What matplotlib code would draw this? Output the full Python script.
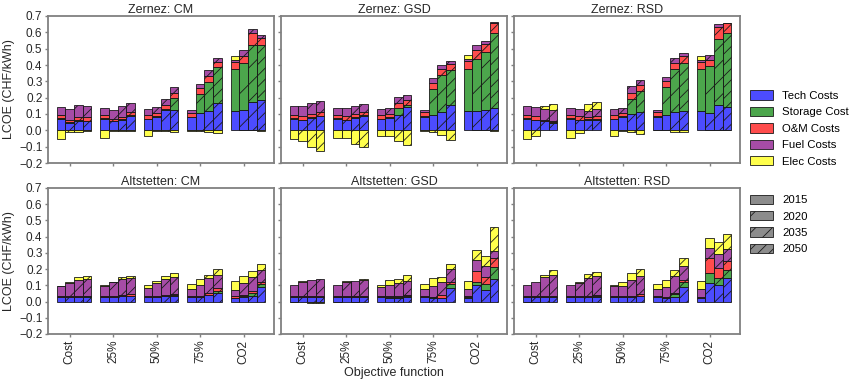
import numpy as np
import matplotlib
matplotlib.use('Agg')
import matplotlib.pyplot as plt
from matplotlib.patches import Patch
from matplotlib.colors import to_rgba

plt.rcParams['font.family'] = ['Liberation Sans', 'DejaVu Sans']
plt.rcParams['hatch.linewidth'] = 0.6

objectives = ['Cost', '25%', '50%', '75%', 'CO2']
years = ['2015', '2020', '2035', '2050']
components = ['Tech Costs', 'Storage Cost', 'O&M Costs', 'Fuel Costs', 'Elec Costs']
colors = ['blue', 'green', 'red', 'purple', 'yellow']
hatches = ['', '/', '//', '///']

# values in CHF/kWh, 4 years per objective (Cost, 25%, 50%, 75%, CO2)
zcm_tech = [0.069, 0.045, 0.058, 0.055, 0.069, 0.055, 0.065, 0.090, 0.069, 0.082, 0.122, 0.122,
            0.082, 0.106, 0.116, 0.167, 0.116, 0.127, 0.173, 0.184]
zcm_stor = [0.004, 0.005, 0.005, 0.005, 0.004, 0.003, 0.003, 0.003, 0.003, 0.003, 0.008, 0.076,
            0.002, 0.118, 0.182, 0.219, 0.260, 0.285, 0.347, 0.340]
zcm_om = [0.022, 0.015, 0.020, 0.020, 0.022, 0.012, 0.016, 0.022, 0.022, 0.020, 0.027, 0.031,
          0.022, 0.035, 0.032, 0.030, 0.045, 0.045, 0.076, 0.041]
zcm_fuel = [0.050, 0.068, 0.074, 0.067, 0.042, 0.052, 0.067, 0.052, 0.037, 0.038, 0.037, 0.036,
            0.016, 0.027, 0.037, 0.027, 0.010, 0.033, 0.026, 0.021]
zcm_elec = [-0.053, -0.012, -0.010, -0.005, -0.047, -0.005, -0.003, -0.003, -0.033, -0.005, -0.005, -0.010,
            -0.003, -0.005, -0.010, -0.015, 0.027, 0.0, 0.0, -0.003]

zgsd_tech = [0.069, 0.061, 0.076, 0.086, 0.069, 0.062, 0.078, 0.088, 0.069, 0.076, 0.096, 0.143,
             0.082, 0.096, 0.110, 0.157, 0.116, 0.116, 0.127, 0.137]
zgsd_stor = [0.004, 0.004, 0.003, 0.003, 0.004, 0.004, 0.003, 0.003, 0.003, 0.003, 0.041, 0.014,
             0.004, 0.157, 0.230, 0.214, 0.260, 0.321, 0.351, 0.459]
zgsd_om = [0.020, 0.020, 0.020, 0.022, 0.022, 0.022, 0.022, 0.022, 0.022, 0.018, 0.030, 0.031,
           0.024, 0.037, 0.038, 0.037, 0.050, 0.057, 0.053, 0.060]
zgsd_fuel = [0.054, 0.062, 0.068, 0.069, 0.042, 0.049, 0.048, 0.046, 0.037, 0.040, 0.037, 0.026,
             0.012, 0.030, 0.024, 0.019, 0.010, 0.026, 0.018, 0.005]
zgsd_elec = [-0.053, -0.067, -0.102, -0.129, -0.047, -0.047, -0.082, -0.102, -0.033, -0.033, -0.067, -0.088,
             -0.005, -0.010, -0.027, -0.057, 0.025, 0.0, 0.0, -0.003]

zrsd_tech = [0.069, 0.061, 0.055, 0.045, 0.069, 0.061, 0.065, 0.065, 0.069, 0.082, 0.100, 0.110,
             0.082, 0.092, 0.112, 0.120, 0.116, 0.106, 0.157, 0.141]
zrsd_stor = [0.004, 0.004, 0.003, 0.003, 0.004, 0.004, 0.003, 0.003, 0.003, 0.003, 0.092, 0.129,
             0.004, 0.173, 0.264, 0.292, 0.260, 0.286, 0.402, 0.455]
zrsd_om = [0.022, 0.020, 0.008, 0.008, 0.022, 0.020, 0.014, 0.020, 0.022, 0.020, 0.037, 0.039,
           0.024, 0.035, 0.036, 0.045, 0.045, 0.041, 0.074, 0.059]
zrsd_fuel = [0.052, 0.058, 0.065, 0.071, 0.042, 0.046, 0.038, 0.045, 0.037, 0.032, 0.040, 0.032,
             0.012, 0.027, 0.031, 0.016, 0.012, 0.026, 0.020, 0.002]
zrsd_elec = [-0.053, -0.033, 0.020, 0.036, -0.047, -0.016, 0.041, 0.040, -0.033, -0.005, -0.010, -0.020,
             0.0, 0.0, -0.008, -0.010, 0.024, 0.0, 0.0, 0.0]

acm_tech = [0.027, 0.027, 0.027, 0.030, 0.027, 0.027, 0.035, 0.035, 0.027, 0.027, 0.035, 0.037,
            0.027, 0.027, 0.041, 0.055, 0.020, 0.030, 0.035, 0.088]
acm_stor = [0.002, 0.002, 0.002, 0.002, 0.002, 0.002, 0.002, 0.002, 0.002, 0.002, 0.002, 0.002,
            0.002, 0.002, 0.002, 0.013, 0.002, 0.005, 0.020, 0.020]
acm_om = [0.005, 0.005, 0.006, 0.005, 0.005, 0.005, 0.006, 0.008, 0.005, 0.006, 0.006, 0.006,
          0.004, 0.005, 0.008, 0.014, 0.010, 0.007, 0.012, 0.013]
acm_fuel = [0.060, 0.083, 0.098, 0.100, 0.064, 0.084, 0.095, 0.099, 0.052, 0.080, 0.094, 0.108,
            0.043, 0.070, 0.092, 0.083, 0.040, 0.070, 0.083, 0.076]
acm_elec = [0.003, 0.006, 0.021, 0.021, 0.002, 0.005, 0.014, 0.014, 0.017, 0.014, 0.021, 0.021,
            0.033, 0.035, 0.021, 0.035, 0.057, 0.046, 0.041, 0.035]

agsd_tech = [0.027, 0.027, 0.027, 0.027, 0.027, 0.027, 0.027, 0.027, 0.027, 0.025, 0.025, 0.031,
             0.027, 0.025, 0.020, 0.082, 0.025, 0.103, 0.072, 0.140]
agsd_stor = [0.002, 0.002, 0.002, 0.002, 0.002, 0.002, 0.002, 0.002, 0.002, 0.002, 0.002, 0.002,
             0.002, 0.002, 0.002, 0.025, 0.002, 0.016, 0.035, 0.070]
agsd_om = [0.005, 0.005, 0.005, 0.005, 0.005, 0.005, 0.005, 0.005, 0.005, 0.005, 0.005, 0.006,
           0.004, 0.004, 0.020, 0.014, 0.006, 0.070, 0.043, 0.057]
agsd_fuel = [0.065, 0.086, 0.099, 0.106, 0.065, 0.086, 0.095, 0.098, 0.055, 0.069, 0.081, 0.088,
             0.045, 0.066, 0.081, 0.080, 0.046, 0.068, 0.070, 0.045]
agsd_elec = [0.0, 0.007, -0.010, -0.010, 0.0, 0.007, 0.0, 0.006, 0.014, 0.032, 0.025, 0.037,
             0.031, 0.047, 0.031, 0.031, 0.048, 0.061, 0.061, 0.150]

arsd_tech = [0.027, 0.027, 0.027, 0.027, 0.027, 0.027, 0.027, 0.031, 0.027, 0.027, 0.027, 0.035,
             0.027, 0.020, 0.027, 0.092, 0.023, 0.113, 0.099, 0.144]
arsd_stor = [0.002, 0.002, 0.002, 0.002, 0.002, 0.002, 0.002, 0.002, 0.002, 0.002, 0.002, 0.002,
             0.002, 0.002, 0.020, 0.027, 0.002, 0.062, 0.045, 0.051]
arsd_om = [0.005, 0.005, 0.005, 0.005, 0.005, 0.005, 0.005, 0.006, 0.005, 0.005, 0.005, 0.008,
           0.004, 0.004, 0.008, 0.014, 0.006, 0.092, 0.062, 0.058]
arsd_fuel = [0.065, 0.085, 0.116, 0.130, 0.065, 0.081, 0.109, 0.119, 0.059, 0.063, 0.099, 0.114,
             0.043, 0.062, 0.103, 0.086, 0.046, 0.061, 0.088, 0.070]
arsd_elec = [0.0, 0.0, 0.014, 0.031, 0.0, 0.006, 0.025, 0.027, 0.010, 0.026, 0.042, 0.042,
             0.033, 0.045, 0.037, 0.048, 0.050, 0.066, 0.076, 0.094]

panels = [
    ('Zernez: CM', [zcm_tech, zcm_stor, zcm_om, zcm_fuel, zcm_elec]),
    ('Zernez: GSD', [zgsd_tech, zgsd_stor, zgsd_om, zgsd_fuel, zgsd_elec]),
    ('Zernez: RSD', [zrsd_tech, zrsd_stor, zrsd_om, zrsd_fuel, zrsd_elec]),
    ('Altstetten: CM', [acm_tech, acm_stor, acm_om, acm_fuel, acm_elec]),
    ('Altstetten: GSD', [agsd_tech, agsd_stor, agsd_om, agsd_fuel, agsd_elec]),
    ('Altstetten: RSD', [arsd_tech, arsd_stor, arsd_om, arsd_fuel, arsd_elec]),
]

fig = plt.figure(figsize=(8.5, 3.84), dpi=100)
left, w, gap = 48 / 850, 226 / 850, 7 / 850
rows = [(1 - 163 / 384, 147 / 384), (1 - 334 / 384, 146 / 384)]

width = 0.2
x = np.arange(len(objectives))
edge = '#1a1a1a'
frame = '#808080'
txt = '#262626'

for k, (title, comps) in enumerate(panels):
    r, c = divmod(k, 3)
    ax = fig.add_axes([left + c * (w + gap), rows[r][0], w, rows[r][1]])
    vals = np.array(comps).reshape(5, len(objectives), len(years))
    for j, yr in enumerate(years):
        pos = x + (j - 1) * width
        bottom = np.zeros(len(objectives))
        for i in range(4):
            ax.bar(pos, vals[i, :, j], width, bottom=bottom,
                   color=to_rgba(colors[i], 0.7), edgecolor=edge, linewidth=0.6,
                   hatch=hatches[j])
            bottom = bottom + vals[i, :, j]
        elec = vals[4, :, j]
        eb = np.where(elec > 0, bottom, 0)
        ax.bar(pos, elec, width, bottom=eb, color=to_rgba(colors[4], 0.7),
               edgecolor=edge, linewidth=0.6, hatch=hatches[j])
    ax.set_xlim(-0.5, 4.7)
    ax.set_ylim(-0.2, 0.7)
    ax.set_yticks(np.arange(-0.2, 0.71, 0.1))
    ax.set_xticks(x)
    for s in ax.spines.values():
        s.set_color(frame)
        s.set_linewidth(1.3)
    ax.tick_params(direction='out', length=2.5, width=1, color=frame,
                   labelsize=8.5, labelcolor=txt, pad=1.5)
    ax.set_title(title, fontsize=9, pad=2, color=txt)
    if c == 0:
        ax.set_yticklabels([('%.1f' % v).replace('-', '\u2212') for v in np.arange(-0.2, 0.71, 0.1)])
        ax.set_ylabel('LCOE (CHF/kWh)', fontsize=9, color=txt, labelpad=3)
    else:
        ax.set_yticklabels([])
    if r == 1:
        ax.set_xticklabels(objectives, rotation=90)
        if c == 1:
            ax.set_xlabel('Objective function', fontsize=9, color=txt, labelpad=2)
    else:
        ax.set_xticklabels([])

comp_handles = [Patch(facecolor=to_rgba(col, 0.7), edgecolor=edge, linewidth=0.6, label=lab)
                for col, lab in zip(colors, components)]
year_handles = [Patch(facecolor=to_rgba('gray', 0.9), edgecolor=edge, linewidth=0.6,
                      hatch=h, label=y) for h, y in zip(hatches, years)]
leg1 = fig.legend(handles=comp_handles, loc='center left', bbox_to_anchor=(0.876, 1 - 128.5 / 384),
                  frameon=False, fontsize=8.2, handlelength=2.0, handleheight=0.9,
                  labelspacing=0.5, handletextpad=0.8, borderpad=0)
leg2 = fig.legend(handles=year_handles, loc='center left', bbox_to_anchor=(0.876, 1 - 224.5 / 384),
                  frameon=False, fontsize=8.2, handlelength=2.0, handleheight=0.9,
                  labelspacing=0.5, handletextpad=0.8, borderpad=0)

fig.savefig('out.png', dpi=100, facecolor='white')
